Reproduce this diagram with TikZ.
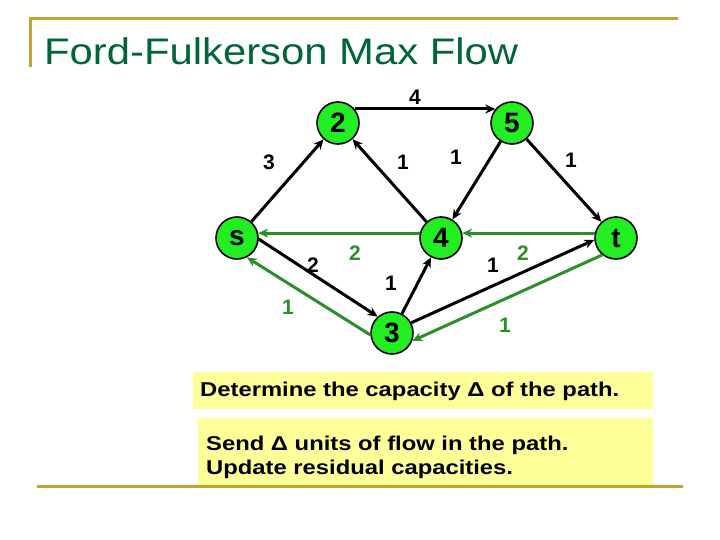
\documentclass[tikz,border=0pt]{standalone}
\usepackage{graphicx}
\usepackage{fontspec}
\setmainfont{Liberation Sans}
\usetikzlibrary{arrows.meta}
\definecolor{gold}{HTML}{C4A22E}
\definecolor{titlegreen}{HTML}{00663A}
\definecolor{nodegreen}{HTML}{22EE22}
\definecolor{edgegreen}{HTML}{2A8F2A}
\definecolor{boxyellow}{HTML}{FFFF99}
\newcommand{\hstretch}[2]{\scalebox{#1}[1]{#2}}
\tikzset{
  vtx/.style={circle, draw=black, line width=1.6pt, fill=nodegreen, minimum size=42pt, inner sep=0pt, font=\fontsize{28}{28}\selectfont\bfseries},
  blk/.style={line width=3pt, draw=black, -{Stealth[length=10pt,width=9pt]}},
  grn/.style={line width=3pt, draw=edgegreen, -{Stealth[length=10pt,width=9pt]}},
  blab/.style={font=\fontsize{21}{21}\selectfont\bfseries, text=black, inner sep=0pt},
  glab/.style={font=\fontsize{21}{21}\selectfont\bfseries, text=edgegreen, inner sep=0pt},
  goldline/.style={draw=gold, line width=3pt},
  boxtext/.style={font=\fontsize{20}{24}\selectfont\bfseries, inner sep=0pt, anchor=base west}
}
\begin{document}
\begin{tikzpicture}[x=1pt,y=-1pt]
\useasboundingbox (0,0) rectangle (720,540);
% frame lines
\draw[goldline] (29,19) -- (678,19);
\draw[goldline] (30,17.5) -- (30,67);
\node[font=\fontsize{37}{37}\selectfont, text=titlegreen, anchor=base west, inner sep=0pt] (title) at (44,65) {\hstretch{1.13}{Ford-Fulkerson Max Flow}};
% nodes
\node[vtx] (n2) at (338,123) {2};
\node[vtx] (n5) at (512,123) {5};
\node[vtx] (s) at (237,238) {s};
\node[vtx] (n4) at (441,238) {4};
\node[vtx] (t) at (616,238) {t};
\node[vtx] (n3) at (392,333) {3};
% black edges
\draw[blk] (n2.40) -- (n5.140);
\draw[blk] (s) -- (n2);
\draw[blk] (n4) -- (n2);
\draw[blk] (n5) -- (n4);
\draw[blk] (n5) -- (t);
\draw[blk] (s.-3) -- (n3.131);
\draw[blk] (n3) -- (n4);
\draw[blk] (n3.28) -- (t.185);
% green edges
\draw[grn] (n4.167) -- (s.13);
\draw[grn] (t.167) -- (n4.13);
\draw[grn] (n3.185) -- (s.-63);
\draw[grn] (t.231) -- (n3.-21);
% labels
\node[blab] (l25) at (415,97) {4};
\node[blab] (ls2) at (269,162) {3};
\node[blab] (l42) at (403,162) {1};
\node[blab] (l54) at (456,157) {1};
\node[blab] (l5t) at (571,160) {1};
\node[glab] (l4s) at (355,253) {2};
\node[blab] (ls3) at (313,265) {2};
\node[glab] (l3s) at (288,307) {1};
\node[blab] (l34) at (391,283) {1};
\node[blab] (l3t) at (493,265) {1};
\node[glab] (lt4) at (523,253) {2};
\node[glab] (lt3) at (505,325) {1};
% text boxes
\fill[boxyellow] (193,372) rectangle (653,409);
\node[boxtext] (det) at (200,396) {\hstretch{1.19}{Determine the capacity Δ of the path.}};
\fill[boxyellow] (198,418) rectangle (653,485);
\node[boxtext] (send) at (206,450) {\hstretch{1.19}{Send Δ units of flow in the path.}};
\node[boxtext] (upd) at (206,474) {\hstretch{1.19}{Update residual capacities.}};
\draw[goldline] (37,486) -- (683,486);
\end{tikzpicture}
\end{document}
